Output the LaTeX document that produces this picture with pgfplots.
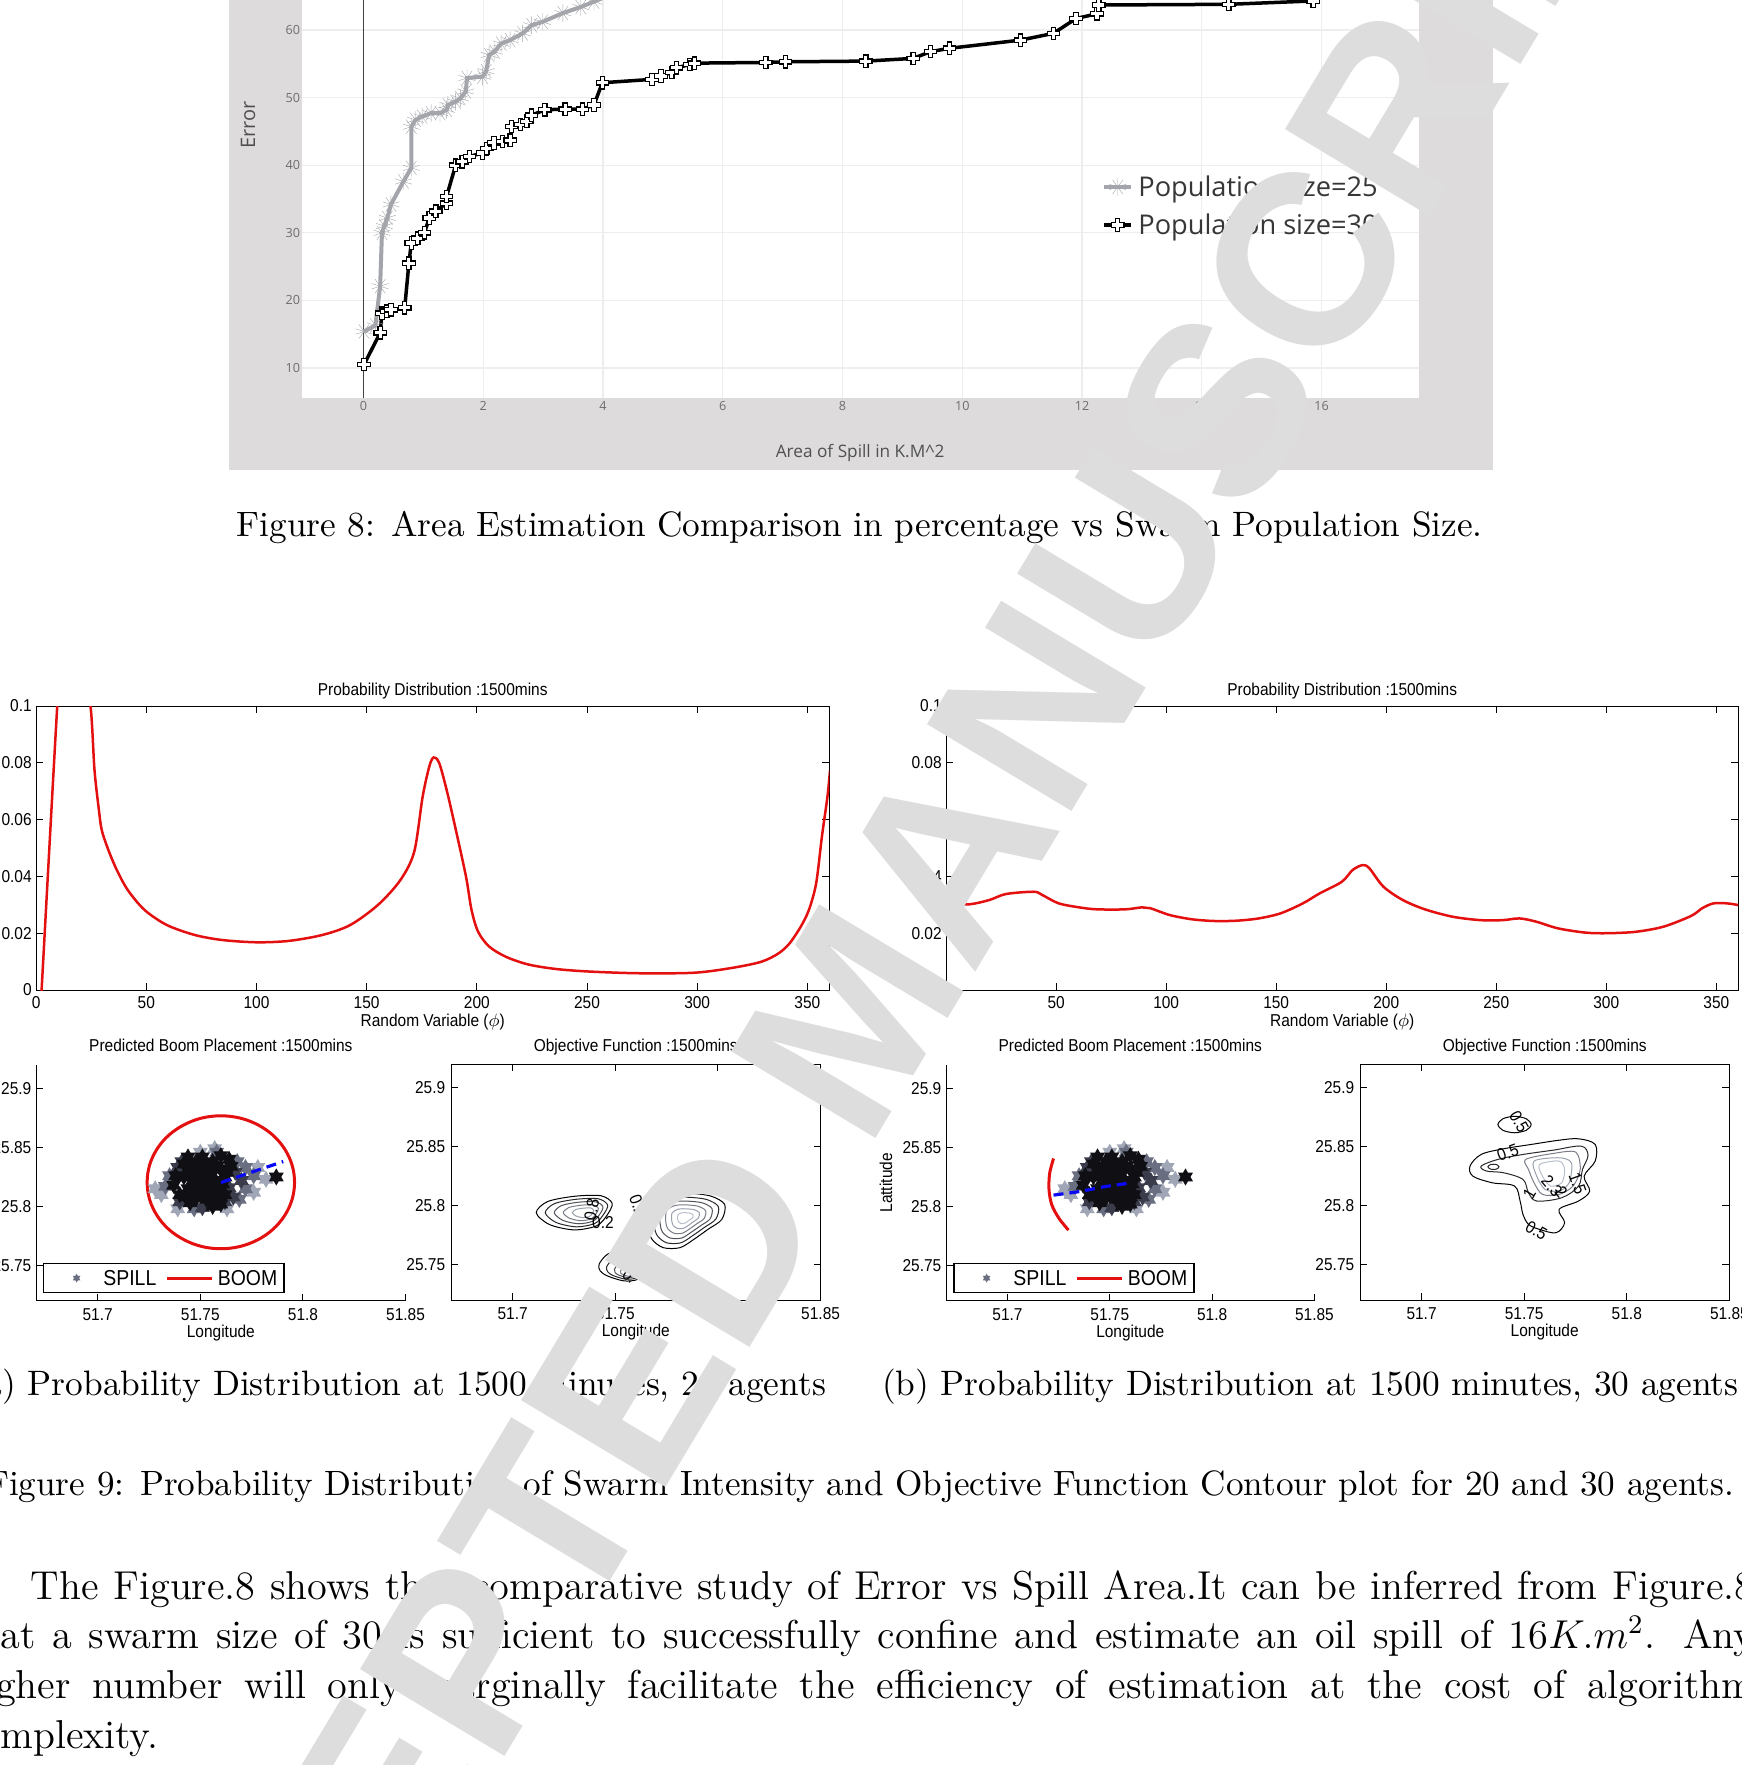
\documentclass[border=0pt]{standalone}
\usepackage{fontspec}
\usepackage{graphicx}
\usepackage{pgfplots}
\usepackage{pgfplotstable}
\pgfplotsset{compat=1.18}
\usetikzlibrary{plotmarks}

\newfontfamily\osans{Open Sans}
\newfontfamily\mfont{Liberation Sans}[FakeStretch=0.9]
\newfontfamily\wmfont{Liberation Sans}

\definecolor{panelgray}{RGB}{221,219,219}
\definecolor{gridgray}{RGB}{238,238,238}
\definecolor{s25}{RGB}{163,165,170}
\definecolor{tick8}{RGB}{110,110,110}
\definecolor{lab8}{RGB}{80,80,80}
\definecolor{fg8}{RGB}{55,55,55}
\definecolor{wm}{RGB}{221,221,221}
\definecolor{mred}{RGB}{228,16,16}
\definecolor{mblue}{RGB}{10,10,245}
\definecolor{sp1}{RGB}{15,15,20}
\definecolor{sp2}{RGB}{58,60,75}
\definecolor{sp3}{RGB}{105,110,128}
\definecolor{sp4}{RGB}{160,166,182}
\definecolor{c2}{RGB}{40,40,45}
\definecolor{c3}{RGB}{80,82,90}
\definecolor{c4}{RGB}{120,125,135}
\definecolor{c5}{RGB}{155,162,175}
\definecolor{c6}{RGB}{185,192,205}

% six pointed star (matlab hexagram)
\pgfdeclareplotmark{hexstar}{%
  \pgfpathmoveto{\pgfqpointpolar{90}{\pgfplotmarksize}}%
  \pgfpathlineto{\pgfqpointpolar{210}{\pgfplotmarksize}}%
  \pgfpathlineto{\pgfqpointpolar{330}{\pgfplotmarksize}}%
  \pgfpathclose
  \pgfpathmoveto{\pgfqpointpolar{30}{\pgfplotmarksize}}%
  \pgfpathlineto{\pgfqpointpolar{150}{\pgfplotmarksize}}%
  \pgfpathlineto{\pgfqpointpolar{270}{\pgfplotmarksize}}%
  \pgfpathclose
  \pgfusepathqfill}
% hollow plus
\pgfdeclareplotmark{pluso}{%
  \pgfpathmoveto{\pgfqpoint{-0.35\pgfplotmarksize}{\pgfplotmarksize}}%
  \pgfpathlineto{\pgfqpoint{0.35\pgfplotmarksize}{\pgfplotmarksize}}%
  \pgfpathlineto{\pgfqpoint{0.35\pgfplotmarksize}{0.35\pgfplotmarksize}}%
  \pgfpathlineto{\pgfqpoint{\pgfplotmarksize}{0.35\pgfplotmarksize}}%
  \pgfpathlineto{\pgfqpoint{\pgfplotmarksize}{-0.35\pgfplotmarksize}}%
  \pgfpathlineto{\pgfqpoint{0.35\pgfplotmarksize}{-0.35\pgfplotmarksize}}%
  \pgfpathlineto{\pgfqpoint{0.35\pgfplotmarksize}{-\pgfplotmarksize}}%
  \pgfpathlineto{\pgfqpoint{-0.35\pgfplotmarksize}{-\pgfplotmarksize}}%
  \pgfpathlineto{\pgfqpoint{-0.35\pgfplotmarksize}{-0.35\pgfplotmarksize}}%
  \pgfpathlineto{\pgfqpoint{-\pgfplotmarksize}{-0.35\pgfplotmarksize}}%
  \pgfpathlineto{\pgfqpoint{-\pgfplotmarksize}{0.35\pgfplotmarksize}}%
  \pgfpathlineto{\pgfqpoint{-0.35\pgfplotmarksize}{0.35\pgfplotmarksize}}%
  \pgfpathclose
  \pgfusepathqfillstroke}

\pgfplotsset{
  f8img/.style={legend image code/.code={\draw[mark repeat=2,mark phase=2,##1] plot coordinates {(0pt,1.35pt) (6.75pt,1.35pt) (13.5pt,1.35pt)};}},
  spillimg/.style={legend image code/.code={\path[draw=none] (0pt,0pt) -- (26pt,0pt); \draw[##1, draw=none] plot[only marks] coordinates {(13pt,0pt)};}},
  boomimg/.style={legend image code/.code={\path[draw=none] (0pt,0pt) -- (24.9pt,0pt); \draw[##1] (0pt,0pt) -- (22.5pt,0pt);}},
  mat/.style={
    scale only axis, anchor=south west,
    tick align=inside, major tick length=3.5pt,
    every tick/.append style={black, line width=0.5pt},
    axis line style={line width=0.5pt},
    /pgf/number format/fixed, /pgf/number format/precision=2,
    /pgf/number format/assume math mode=true,
    scaled ticks=false,
    tick label style={font=\mfont\fontsize{8.6}{9}\selectfont, inner sep=0pt},
    label style={font=\mfont\fontsize{8.6}{9}\selectfont, inner sep=0pt},
    title style={font=\mfont\fontsize{8.6}{9}\selectfont, at={(0.5,1)}, anchor=base, inner sep=0pt},
    xticklabel style={anchor=base},
    yticklabel style={anchor=east},
    xlabel style={at={(0.5,0)}, anchor=base},
    ylabel style={anchor=base},
  },
  mleg/.style={legend columns=2, clip marker paths=true,
    legend style={at={(0,0)}, anchor=south west, xshift=3.6pt, yshift=3.7pt,
      draw=black, line width=0.6pt, fill=white, inner xsep=3.35pt, inner ysep=3.8pt,
      font=\mfont\fontsize{10.8}{11}\selectfont,
      nodes={inner sep=0pt, text height=7pt, text depth=0pt}, cells={anchor=west},
      /tikz/every odd column/.style={column sep=0.4pt},
      /tikz/every even column/.style={column sep=4.7pt}}},
}

% Figure 8 data
\pgfplotstableread{
x y
0.01 15.4
0.20 16.3
0.28 22.1
0.31 30.0
0.35 31.0
0.40 32.2
0.46 34.2
0.67 37.6
0.80 39.6
0.80 45.7
0.87 46.7
0.98 47.2
1.13 47.7
1.28 47.7
1.39 48.2
1.41 48.9
1.54 49.4
1.62 49.9
1.71 50.9
1.73 52.9
1.99 53.1
2.05 53.9
2.10 56.3
2.19 56.8
2.30 58.0
2.45 58.5
2.66 59.5
2.81 60.7
2.99 61.2
3.33 62.5
3.63 63.4
3.85 64.2
4.04 64.9
4.30 66.0
}\popA
\pgfplotstableread{
x y
0.01 10.5
0.28 15.2
0.31 18.1
0.39 18.4
0.46 18.6
0.69 18.9
0.76 25.5
0.80 28.5
0.91 29.2
1.02 30.0
1.10 32.2
1.21 33.2
1.39 34.4
1.39 35.4
1.54 40.0
1.65 40.5
1.77 41.3
1.99 41.8
2.06 42.5
2.18 43.3
2.32 43.5
2.45 43.7
2.47 45.7
2.62 46.0
2.73 46.5
2.81 47.4
3.03 48.2
3.37 48.3
3.66 48.3
3.85 48.9
3.99 52.2
4.82 52.7
4.97 53.2
5.15 53.7
5.23 54.4
5.45 54.9
5.53 55.1
6.72 55.2
7.05 55.3
8.39 55.4
9.18 55.8
9.47 56.8
9.79 57.3
10.97 58.5
11.52 59.5
11.90 61.7
12.25 62.4
12.28 63.7
14.45 63.8
15.86 64.3
16.30 66.0
}\popB

% probability distributions
\pgfplotstableread{
x y
2.2 -0.005
2.5 0
9.6 0.1
12 0.125
16 0.138
20 0.125
24.7 0.1
26.5 0.0775
28.5 0.0634
29.8 0.0563
32.8 0.0493
36.6 0.0423
41.6 0.0352
49.2 0.0282
59.3 0.0229
71.9 0.0194
84.5 0.0176
100.2 0.0168
114.8 0.0173
130 0.0194
142.6 0.0229
155.2 0.0300
165.3 0.0387
171.6 0.0487
175.4 0.0680
178.4 0.0786
180.4 0.0819
183 0.0798
186.7 0.0692
190.5 0.0563
195.1 0.0399
197.6 0.0282
200.6 0.0205
205.6 0.0153
213.2 0.0117
223.3 0.0090
235.9 0.0074
251.1 0.0065
273.8 0.0059
299 0.0061
316.7 0.0079
329.3 0.0100
336.9 0.0129
341.9 0.0164
347 0.0223
350.7 0.0282
354 0.0376
356.6 0.0540
359.1 0.0680
360.3 0.0775
}\pdA
\pgfplotstableread{
x y
0 0.0302
10.8 0.0302
19.7 0.0317
27.2 0.0338
39.8 0.0346
43.6 0.0335
51.2 0.0305
61.3 0.0290
68.8 0.0284
81.4 0.0284
89 0.0291
92.8 0.0288
101.6 0.0264
111.7 0.0249
121.8 0.0243
131.9 0.0244
142 0.0252
152 0.0270
162.1 0.0305
169.7 0.0340
179.8 0.0381
184.8 0.0423
189.4 0.0440
192.4 0.0428
198.7 0.0364
207.5 0.0317
217.6 0.0284
230.2 0.0258
242.8 0.0246
252.9 0.0246
260.5 0.0252
268 0.0241
278.1 0.0217
290.7 0.0202
300.8 0.0200
313.4 0.0205
326 0.0223
338.6 0.0261
343.6 0.0288
348.7 0.0305
355 0.0305
360 0.0299
}\pdB

% spill particles
\pgfplotstableread{
x y
51.744 25.842
51.748 25.838
51.752 25.836
51.756 25.838
51.760 25.843
51.764 25.840
51.745 25.832
51.750 25.830
51.755 25.829
51.760 25.832
51.765 25.834
51.742 25.825
51.747 25.822
51.752 25.823
51.757 25.822
51.762 25.825
51.744 25.815
51.749 25.814
51.754 25.816
51.759 25.815
51.748 25.807
51.753 25.806
51.757 25.808
51.745 25.803
51.756 25.800
51.760 25.802
51.740 25.810
51.737 25.818
51.787 25.825
51.742 25.836
51.746 25.827
51.751 25.818
51.756 25.812
51.761 25.819
51.763 25.829
51.738 25.826
51.751 25.842
51.758 25.834
51.743 25.808
51.752 25.811
51.762 25.810
}\spA
\pgfplotstableread{
x y
51.739 25.833
51.741 25.838
51.767 25.829
51.770 25.822
51.764 25.816
51.766 25.808
51.762 25.804
51.740 25.804
51.751 25.799
}\spB
\pgfplotstableread{
x y
51.735 25.826
51.733 25.817
51.772 25.833
51.776 25.826
51.772 25.815
51.769 25.806
51.747 25.798
51.758 25.846
51.768 25.838
}\spC
\pgfplotstableread{
x y
51.728 25.815
51.731 25.810
51.750 25.846
51.757 25.849
51.778 25.833
51.782 25.823
51.776 25.812
51.739 25.798
51.763 25.798
}\spD

\begin{document}
\begin{tikzpicture}
\useasboundingbox (0,0) rectangle (870.5pt,-882.5pt);
\fill[white] (0,0) rectangle (870.5pt,-882.5pt);
\fill[panelgray] (114.35pt,1pt) rectangle (746.5pt,-235pt);

% ---------------- Figure 8
\begin{axis}[scale only axis, anchor=south west, at={(150.85pt,-199.15pt)},
  width=558.45pt, height=199.15pt,
  xmin=-1.03, xmax=17.62, ymin=5.52, ymax=64.44,
  axis background/.style={fill=white},
  axis line style={draw=none}, major tick length=0pt,
  xtick={0,2,...,16}, ytick={10,20,...,60},
  grid=major, major grid style={gridgray, line width=0.6pt},
  extra x ticks={0}, extra x tick labels={},
  extra x tick style={grid=major, major grid style={black!75, line width=0.6pt}},
  /pgf/number format/assume math mode=true,
  tick label style={font=\osans\fontsize{6.3}{7}\selectfont, text=tick8, inner sep=0pt},
  xticklabel style={anchor=base, yshift=-6.2pt},
  yticklabel style={anchor=east, xshift=-0.6pt},
  xlabel={Area of Spill in K.M\textasciicircum 2},
  xlabel style={at={(0.5,0)}, anchor=base, yshift=-29.35pt, font=\osans\fontsize{8.6}{9}\selectfont, text=lab8},
  ylabel={Error},
  ylabel style={at={([xshift=-23.35pt]axis description cs:0,0.686)}, anchor=base, font=\osans\fontsize{10}{11}\selectfont, text=lab8},
  legend style={at={(axis cs:12.33,33.57)}, anchor=west, draw=none, fill=none, inner sep=0pt,
    font=\osans\fontsize{13.6}{14}\selectfont, text=fg8,
    nodes={inner sep=0pt, text height=10pt, text depth=3pt}, cells={anchor=west},
    row sep=6pt, /tikz/every odd column/.style={column sep=2.6pt}},
]
\addplot[s25, line width=2pt, mark=10-pointed star, mark size=4.4pt,
  mark options={fill=s25, draw=s25, line width=0.2pt}, f8img] table {\popA};
\addlegendentry{Population size=25}
\addplot[black, line width=1.75pt, mark=pluso, mark size=3.1pt,
  mark options={fill=white, draw=black, line width=0.6pt}, f8img] table {\popB};
\addlegendentry{Population size=30}
\end{axis}

% ---------------- (a) probability
\begin{axis}[mat, at={(18.05pt,-495pt)}, width=396.65pt, height=142pt,
  xmin=0, xmax=360, ymin=0, ymax=0.1,
  xtick={0,50,100,150,200,250,300,350}, ytick={0,0.02,0.04,0.06,0.08,0.1},
  xticklabel style={yshift=-9pt}, yticklabel style={xshift=-2pt},
  title={Probability Distribution :1500mins}, title style={yshift=-0.5pt},
  xlabel={Random Variable ($\phi$)}, xlabel style={yshift=-18pt},
  ylabel={f(x)}, ylabel style={at={([xshift=-23pt]axis description cs:0,0.5)}}]
\addplot[mred, line width=1.25pt, smooth, tension=0.5] table {\pdA};
\end{axis}

% ---------------- (b) probability
\begin{axis}[mat, at={(473.05pt,-495pt)}, width=396.1pt, height=142pt,
  xmin=0, xmax=360, ymin=0, ymax=0.1,
  xtick={0,50,100,150,200,250,300,350}, ytick={0,0.02,0.04,0.06,0.08,0.1},
  xticklabel style={yshift=-9pt}, yticklabel style={xshift=-2pt},
  title={Probability Distribution :1500mins}, title style={yshift=-0.5pt},
  xlabel={Random Variable ($\phi$)}, xlabel style={yshift=-18pt},
  ylabel={f(x)}, ylabel style={at={([xshift=-23pt]axis description cs:0,0.5)}}]
\addplot[mred, line width=1.25pt, smooth, tension=0.5] table {\pdB};
\end{axis}

% ---------------- (a) boom placement
\begin{axis}[mat, mleg, at={(18.05pt,-650.35pt)}, width=184.75pt, height=117.85pt,
  axis lines*=left, axis line style={-},
  xmin=51.67, xmax=51.85, ymin=25.72, ymax=25.92,
  xtick={51.7,51.75,51.8,51.85}, ytick={25.75,25.8,25.85,25.9},
  xticklabel style={yshift=-9.65pt}, yticklabel style={xshift=-2.2pt},
  title={Predicted Boom Placement :1500mins}, title style={yshift=0.65pt},
  xlabel={Longitude}, xlabel style={yshift=-18.4pt},
  ylabel={Lattitude}, ylabel style={at={([xshift=-27pt]axis description cs:0,0.5)}}]
\addlegendimage{only marks, mark=hexstar, mark size=2.2pt, color=sp3, spillimg}
\addlegendentry{SPILL}
\addplot[mred, line width=1.5pt, smooth cycle, tension=0.6, boomimg] coordinates {
 (51.7959,25.8205) (51.7947,25.8351) (51.7911,25.8487) (51.7854,25.8604)
 (51.7780,25.8693) (51.7693,25.8750) (51.7600,25.8769) (51.7507,25.8750)
 (51.7421,25.8693) (51.7346,25.8604) (51.7289,25.8487) (51.7253,25.8351)
 (51.7241,25.8205) (51.7253,25.8059) (51.7289,25.7923) (51.7346,25.7806)
 (51.7421,25.7717) (51.7507,25.7660) (51.7600,25.7641) (51.7693,25.7660)
 (51.7780,25.7717) (51.7854,25.7806) (51.7911,25.7923) (51.7947,25.8059)};
\addlegendentry{BOOM}
\addplot[only marks, mark=hexstar, mark size=4.3pt, color=sp4, forget plot] table {\spD};
\addplot[only marks, mark=hexstar, mark size=4.3pt, color=sp3, forget plot] table {\spC};
\addplot[only marks, mark=hexstar, mark size=4.3pt, color=sp2, forget plot] table {\spB};
\addplot[only marks, mark=hexstar, mark size=4.3pt, color=sp1, forget plot] table {\spA};
\addplot[mblue, line width=1.6pt, dash pattern=on 5pt off 3pt, forget plot] coordinates {(51.7601,25.8203) (51.7904,25.8381)};
\end{axis}

% ---------------- (a) objective contours
\begin{axis}[mat, at={(225.5pt,-650pt)}, width=184.8pt, height=117.85pt,
  xmin=51.67, xmax=51.85, ymin=25.72, ymax=25.92,
  xtick={51.7,51.75,51.8,51.85}, ytick={25.75,25.8,25.85,25.9},
  xticklabel style={yshift=-9.65pt}, yticklabel style={xshift=-2.7pt},
  title={Objective Function :1500mins}, title style={yshift=0.65pt},
  xlabel={Longitude}, xlabel style={yshift=-18.4pt}]
% left group
\addplot[black, line width=0.5pt, smooth cycle] coordinates {(51.7115,25.7940) (51.7170,25.8035) (51.7300,25.8080) (51.7430,25.8085) (51.7485,25.8020) (51.7460,25.7920) (51.7410,25.7830) (51.7300,25.7795) (51.7180,25.7840)};
\addplot[c2, line width=0.5pt, smooth cycle] coordinates {(51.7159,25.7940) (51.7204,25.8018) (51.7311,25.8055) (51.7417,25.8059) (51.7463,25.8006) (51.7442,25.7924) (51.7401,25.7850) (51.7311,25.7821) (51.7212,25.7858)};
\addplot[c3, line width=0.5pt, smooth cycle] coordinates {(51.7203,25.7940) (51.7238,25.8001) (51.7322,25.8030) (51.7405,25.8033) (51.7440,25.7991) (51.7424,25.7927) (51.7392,25.7870) (51.7322,25.7847) (51.7245,25.7876)};
\addplot[c4, line width=0.5pt, smooth cycle] coordinates {(51.7247,25.7940) (51.7273,25.7984) (51.7332,25.8004) (51.7392,25.8007) (51.7418,25.7977) (51.7406,25.7931) (51.7383,25.7889) (51.7332,25.7873) (51.7277,25.7894)};
\addplot[c5, line width=0.5pt, smooth cycle] coordinates {(51.7291,25.7940) (51.7307,25.7967) (51.7343,25.7979) (51.7380,25.7981) (51.7395,25.7962) (51.7388,25.7934) (51.7374,25.7909) (51.7343,25.7899) (51.7310,25.7912)};
% right group
\addplot[black, line width=0.5pt, smooth cycle] coordinates {(51.7666,25.8011) (51.7747,25.8096) (51.7856,25.8105) (51.7965,25.8082) (51.8033,25.8011) (51.8019,25.7884) (51.7951,25.7799) (51.7883,25.7715) (51.7815,25.7644) (51.7734,25.7644) (51.7679,25.7715) (51.7660,25.7828)};
\addplot[c2, line width=0.5pt, smooth cycle] coordinates {(51.7694,25.7993) (51.7762,25.8065) (51.7853,25.8072) (51.7945,25.8053) (51.8002,25.7993) (51.7990,25.7887) (51.7933,25.7815) (51.7876,25.7745) (51.7819,25.7685) (51.7751,25.7685) (51.7705,25.7745) (51.7689,25.7840)};
\addplot[c3, line width=0.5pt, smooth cycle] coordinates {(51.7722,25.7976) (51.7777,25.8033) (51.7851,25.8039) (51.7925,25.8024) (51.7971,25.7976) (51.7962,25.7889) (51.7916,25.7831) (51.7869,25.7774) (51.7823,25.7726) (51.7768,25.7726) (51.7731,25.7774) (51.7718,25.7851)};
\addplot[c4, line width=0.5pt, smooth cycle] coordinates {(51.7750,25.7958) (51.7792,25.8002) (51.7848,25.8007) (51.7905,25.7995) (51.7940,25.7958) (51.7933,25.7892) (51.7898,25.7848) (51.7862,25.7804) (51.7827,25.7767) (51.7785,25.7767) (51.7756,25.7804) (51.7746,25.7863)};
\addplot[c5, line width=0.5pt, smooth cycle] coordinates {(51.7777,25.7940) (51.7807,25.7971) (51.7846,25.7974) (51.7885,25.7966) (51.7910,25.7940) (51.7904,25.7894) (51.7880,25.7864) (51.7856,25.7833) (51.7831,25.7808) (51.7802,25.7808) (51.7782,25.7833) (51.7775,25.7874)};
\addplot[c6, line width=0.5pt, smooth cycle] coordinates {(51.7805,25.7922) (51.7821,25.7939) (51.7843,25.7941) (51.7865,25.7936) (51.7879,25.7922) (51.7876,25.7897) (51.7862,25.7880) (51.7849,25.7863) (51.7835,25.7849) (51.7819,25.7849) (51.7808,25.7863) (51.7804,25.7886)};
% lower group
\addplot[black, line width=0.5pt, smooth cycle] coordinates {(51.7421,25.7503) (51.7462,25.7588) (51.7543,25.7630) (51.7639,25.7616) (51.7671,25.7545) (51.7652,25.7446) (51.7611,25.7376) (51.7543,25.7362) (51.7462,25.7404) (51.7427,25.7446)};
\addplot[c2, line width=0.5pt, smooth cycle] coordinates {(51.7458,25.7482) (51.7489,25.7546) (51.7550,25.7578) (51.7622,25.7567) (51.7646,25.7514) (51.7632,25.7440) (51.7601,25.7387) (51.7550,25.7377) (51.7489,25.7408) (51.7463,25.7440)};
\addplot[c3, line width=0.5pt, smooth cycle] coordinates {(51.7496,25.7462) (51.7516,25.7504) (51.7557,25.7525) (51.7605,25.7518) (51.7621,25.7483) (51.7611,25.7433) (51.7591,25.7398) (51.7557,25.7391) (51.7516,25.7412) (51.7499,25.7433)};
\addplot[c4, line width=0.5pt, smooth cycle] coordinates {(51.7525,25.7445) (51.7538,25.7470) (51.7562,25.7483) (51.7591,25.7479) (51.7600,25.7458) (51.7595,25.7428) (51.7582,25.7407) (51.7562,25.7403) (51.7538,25.7415) (51.7527,25.7428)};
\node[font=\mfont\fontsize{8.6}{9}\selectfont, rotate=80] at (axis cs:51.7385,25.7965) {0.8};
\node[font=\mfont\fontsize{8.6}{9}\selectfont] at (axis cs:51.7440,25.7860) {0.2};
\node[font=\mfont\fontsize{8.6}{9}\selectfont, rotate=-70] at (axis cs:51.7611,25.8000) {0.2};
\node[font=\mfont\fontsize{8.6}{9}\selectfont, rotate=-60] at (axis cs:51.7700,25.7900) {2};
\node[font=\mfont\fontsize{8.6}{9}\selectfont, rotate=-40] at (axis cs:51.7571,25.7404) {0.};
\end{axis}

% ---------------- (b) boom placement
\begin{axis}[mat, mleg, at={(473.05pt,-650.35pt)}, width=184.15pt, height=117.85pt,
  axis lines*=left, axis line style={-},
  xmin=51.67, xmax=51.85, ymin=25.72, ymax=25.92,
  xtick={51.7,51.75,51.8,51.85}, ytick={25.75,25.8,25.85,25.9},
  xticklabel style={yshift=-9.65pt}, yticklabel style={xshift=-2.2pt},
  title={Predicted Boom Placement :1500mins}, title style={yshift=0.65pt},
  xlabel={Longitude}, xlabel style={yshift=-18.4pt},
  ylabel={Lattitude}, ylabel style={at={([xshift=-27pt]axis description cs:0,0.5)}}]
\addlegendimage{only marks, mark=hexstar, mark size=2.2pt, color=sp3, spillimg}
\addlegendentry{SPILL}
\addplot[mred, line width=1.5pt, smooth, boomimg] coordinates {
 (51.7225,25.8407) (51.7206,25.8280) (51.7203,25.8138) (51.7217,25.8011) (51.7252,25.7898) (51.7298,25.7799)};
\addlegendentry{BOOM}
\addplot[only marks, mark=hexstar, mark size=4.3pt, color=sp4, forget plot] table {\spD};
\addplot[only marks, mark=hexstar, mark size=4.3pt, color=sp3, forget plot] table {\spC};
\addplot[only marks, mark=hexstar, mark size=4.3pt, color=sp2, forget plot] table {\spB};
\addplot[only marks, mark=hexstar, mark size=4.3pt, color=sp1, forget plot] table {\spA};
\addplot[mblue, line width=1.6pt, dash pattern=on 5pt off 3pt, smooth, forget plot] coordinates {(51.7225,25.8096) (51.7361,25.8129) (51.7469,25.8166) (51.7605,25.8200)};
\end{axis}

% ---------------- (b) objective contours
\begin{axis}[mat, at={(680pt,-650pt)}, width=184.7pt, height=117.85pt,
  xmin=51.67, xmax=51.85, ymin=25.72, ymax=25.92,
  xtick={51.7,51.75,51.8,51.85}, ytick={25.75,25.8,25.85,25.9},
  xticklabel style={yshift=-9.65pt}, yticklabel style={xshift=-2.7pt},
  title={Objective Function :1500mins}, title style={yshift=0.65pt},
  xlabel={Longitude}, xlabel style={yshift=-18.4pt}]
\addplot[black, line width=0.5pt, smooth cycle, tension=0.55] coordinates {(51.7236,25.8336) (51.7290,25.8435) (51.7399,25.8483) (51.7534,25.8520) (51.7670,25.8556) (51.7765,25.8568) (51.7846,25.8520) (51.7846,25.8379) (51.7792,25.8251) (51.7819,25.8124) (51.7765,25.8040) (51.7670,25.7969) (51.7697,25.7856) (51.7656,25.7771) (51.7575,25.7799) (51.7521,25.7842) (51.7494,25.7927) (51.7480,25.8040) (51.7453,25.8167) (51.7344,25.8195) (51.7250,25.8251)};
\addplot[black, line width=0.5pt, smooth cycle] coordinates {(51.7534,25.8689) (51.7510,25.8738) (51.7453,25.8759) (51.7396,25.8738) (51.7372,25.8689) (51.7396,25.8640) (51.7453,25.8619) (51.7510,25.8640)};
\addplot[c2, line width=0.5pt, smooth cycle, tension=0.55] coordinates {(51.7290,25.8336) (51.7372,25.8393) (51.7494,25.8435) (51.7643,25.8472) (51.7778,25.8506) (51.7811,25.8427) (51.7784,25.8308) (51.7765,25.8167) (51.7683,25.8068) (51.7561,25.8040) (51.7521,25.8110) (51.7494,25.8223) (51.7399,25.8280) (51.7317,25.8294)};
\addplot[c2, line width=0.5pt, smooth cycle] coordinates {(51.7377,25.8330) (51.7364,25.8350) (51.7337,25.8350) (51.7323,25.8330) (51.7337,25.8310) (51.7364,25.8310)};
\addplot[c4, line width=0.5pt, smooth cycle] coordinates {(51.7507,25.8393) (51.7643,25.8444) (51.7751,25.8455) (51.7773,25.8308) (51.7738,25.8167) (51.7670,25.8096) (51.7589,25.8096) (51.7548,25.8195) (51.7521,25.8308)};
\addplot[c5, line width=0.5pt, smooth cycle] coordinates {(51.7548,25.8379) (51.7670,25.8407) (51.7730,25.8364) (51.7719,25.8195) (51.7670,25.8124) (51.7602,25.8138) (51.7561,25.8251)};
\addplot[c6, line width=0.5pt, smooth cycle] coordinates {(51.7575,25.8350) (51.7670,25.8379) (51.7697,25.8308) (51.7683,25.8195) (51.7629,25.8167) (51.7589,25.8251)};
\node[font=\mfont\fontsize{8.6}{9}\selectfont, rotate=-60] at (axis cs:51.7475,25.8715) {0.5};
\node[font=\mfont\fontsize{8.6}{9}\selectfont, rotate=20] at (axis cs:51.7420,25.8450) {0.5};
\node[font=\mfont\fontsize{8.6}{9}\selectfont, rotate=-50] at (axis cs:51.7635,25.8165) {2.3};
\node[font=\mfont\fontsize{8.6}{9}\selectfont, rotate=-50] at (axis cs:51.7680,25.8115) {2};
\node[font=\mfont\fontsize{8.6}{9}\selectfont, rotate=-70] at (axis cs:51.7760,25.8190) {1.5};
\node[font=\mfont\fontsize{8.6}{9}\selectfont, rotate=60] at (axis cs:51.7525,25.8105) {1};
\node[font=\mfont\fontsize{8.6}{9}\selectfont, rotate=-30] at (axis cs:51.7560,25.7790) {0.5};
\end{axis}

% ---------------- captions and text
\node[anchor=base, inner sep=0pt] at (429.85pt,-268pt) {\resizebox{623pt}{!}{\fontsize{10.95}{13}\selectfont Figure 8: Area Estimation Comparison in percentage vs Swarm Population Size.}};
\node[anchor=base, inner sep=0pt] at (199.25pt,-697.5pt) {\resizebox{427.5pt}{!}{\fontsize{10.95}{13}\selectfont (a) Probability Distribution at 1500 minutes, 20 agents}};
\node[anchor=base, inner sep=0pt] at (655.15pt,-697.5pt) {\resizebox{428.3pt}{!}{\fontsize{10.95}{13}\selectfont (b) Probability Distribution at 1500 minutes, 30 agents}};
\node[anchor=base, inner sep=0pt] at (430pt,-747.5pt) {\resizebox{873.9pt}{!}{\fontsize{10.95}{13}\selectfont Figure 9: Probability Distribution of Swarm Intensity and Objective Function Contour plot for 20 and 30 agents.}};

\node[anchor=base west, inner sep=0pt] at (15.3pt,-799.5pt) {\scalebox{1.68}{\fontsize{12}{14}\selectfont\makebox[512.9pt][s]{The Figure.8 shows that comparative study of Error vs Spill Area.It can be inferred from Figure.8}}};
\node[anchor=base west, inner sep=0pt] at (-18.65pt,-824pt) {\scalebox{1.68}{\fontsize{12}{14}\selectfont\makebox[533.1pt][s]{that a swarm size of 30 is sufficient to successfully confine and estimate an oil spill of 16$K.m^2$. Any}}};
\node[anchor=base west, inner sep=0pt] at (-18.65pt,-849pt) {\scalebox{1.68}{\fontsize{12}{14}\selectfont\makebox[533.1pt][s]{higher number will only marginally facilitate the efficiency of estimation at the cost of algorithm}}};
\node[anchor=base west, inner sep=0pt] at (-18.65pt,-874pt) {\scalebox{1.68}{\fontsize{12}{14}\selectfont complexity.}};

% ---------------- watermark
\node[rotate=59, text=wm, inner sep=0pt, font=\wmfont\bfseries\fontsize{122.5}{122.5}\selectfont] at (425.75pt,-507.5pt) {ACCEPTED MANUSCRIPT};
\end{tikzpicture}
\end{document}
